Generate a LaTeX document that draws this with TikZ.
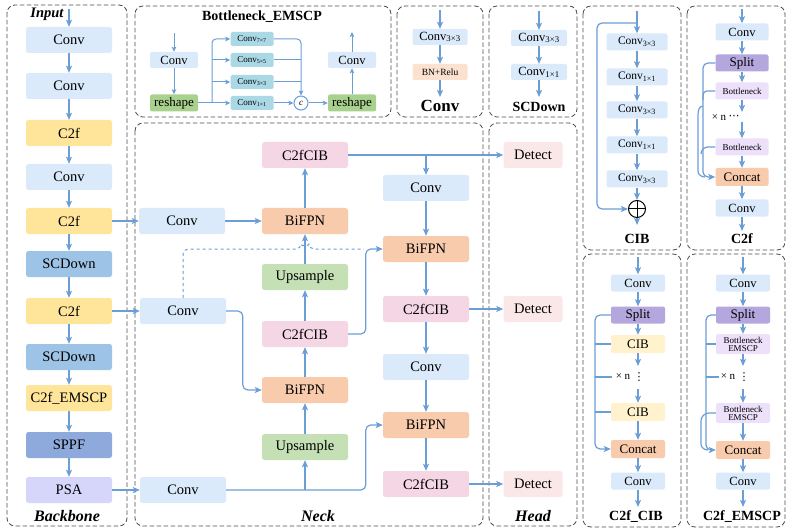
\documentclass[tikz,border=0pt]{standalone}
\usepackage{fontspec}
\setmainfont{Liberation Serif}
\newfontfamily\dotsfont{DejaVu Sans}
\usetikzlibrary{arrows.meta,calc}
\definecolor{cline}{RGB}{108,158,214}
\definecolor{cconv}{RGB}{218,234,250}
\definecolor{cctwof}{RGB}{255,229,153}
\definecolor{cscd}{RGB}{157,195,230}
\definecolor{csppf}{RGB}{142,169,219}
\definecolor{cpsa}{RGB}{214,214,250}
\definecolor{cbifpn}{RGB}{248,203,173}
\definecolor{cccib}{RGB}{245,214,228}
\definecolor{cup}{RGB}{197,224,180}
\definecolor{cdet}{RGB}{250,232,232}
\definecolor{ccyan}{RGB}{170,216,228}
\definecolor{cresh}{RGB}{169,209,142}
\definecolor{cbnr}{RGB}{251,226,208}
\definecolor{csplit}{RGB}{180,167,222}
\definecolor{cbott}{RGB}{236,224,250}
\definecolor{ccibbox}{RGB}{255,242,204}
\newcommand{\fsz}[1]{\fontsize{#1}{#1}\selectfont}

\begin{document}
\begin{tikzpicture}[x=1pt,y=-1pt,
    box/.style={rectangle,rounded corners=2.5pt,inner sep=0pt,minimum width=86pt,minimum height=26pt,font=\fsz{14.5}},
    sbox/.style={rectangle,rounded corners=2pt,inner sep=0pt,minimum width=54pt,minimum height=17pt,font=\fsz{12.5}},
    tbox/.style={rectangle,rounded corners=1.5pt,inner sep=0pt,minimum width=43pt,minimum height=14pt,font=\fsz{9}},
    ntext/.style={inner sep=0pt,font=\fsz{11}},
    vdot/.style={inner sep=0pt,font=\fsz{11}\dotsfont},
    wire/.style={draw=cline,line width=1.2pt},
    arr/.style={wire,-{Stealth[length=7pt,width=6pt,inset=1.5pt]}},
    sarr/.style={wire,line width=1pt,-{Stealth[length=5pt,width=4.5pt,inset=1pt]}},
    panel/.style={draw=black!70,line width=0.8pt,dash pattern=on 4.5pt off 2.5pt,rounded corners=8pt},
    plab/.style={font=\fsz{14}\bfseries},
    ilab/.style={font=\fsz{16}\bfseries\itshape},
    oplusnode/.style={circle,draw=black,line width=1pt,minimum size=17pt,inner sep=0pt,
        path picture={\draw[black,line width=1pt] (path picture bounding box.north) -- (path picture bounding box.south)
        (path picture bounding box.west) -- (path picture bounding box.east);}}]
\useasboundingbox (0,0) rectangle (793,532);

\draw[panel] (7,5) rectangle (127,526);
\draw[panel] (135,6) rectangle (391,117);
\draw[panel] (397,6) rectangle (483,117);
\draw[panel] (489,6) rectangle (577,117);
\draw[panel] (135,123) rectangle (483,526);
\draw[panel] (489,123) rectangle (577,526);
\draw[panel] (583,6) rectangle (681,250);
\draw[panel] (687,6) rectangle (785,250);
\draw[panel] (583,254) rectangle (681,527);
\draw[panel] (687,254) rectangle (785,527);

\node[ilab,font=\fsz{14.5}\bfseries\itshape] (input) at (47,14) {Input};
\node[ilab] (lbback) at (67,516) {Backbone};
\node[ilab] (lbneck) at (318,516) {Neck};
\node[ilab] (lbhead) at (533,516) {Head};
\node[plab] (lbbott) at (262,17) {Bottleneck\_EMSCP};
\node[plab,font=\fsz{17}\bfseries] (lbconv) at (440,106) {Conv};
\node[plab] (lbscd) at (539,107) {SCDown};
\node[plab] (lbcib) at (637,239) {CIB};
\node[plab] (lbctwof) at (742,239) {C2f};
\node[plab] (lbccib) at (636,517) {C2f\_CIB};
\node[plab] (lbcem) at (742,517) {C2f\_EMSCP};

\node[box,fill=cconv] (b1) at (69,40) {Conv};
\node[box,fill=cconv] (b2) at (69,86) {Conv};
\node[box,fill=cctwof] (b3) at (69,133) {C2f};
\node[box,fill=cconv] (b4) at (69,177) {Conv};
\node[box,fill=cctwof] (b5) at (69,221) {C2f};
\node[box,fill=cscd] (b6) at (69,264) {SCDown};
\node[box,fill=cctwof] (b7) at (69,311) {C2f};
\node[box,fill=cscd] (b8) at (69,357) {SCDown};
\node[box,fill=cctwof] (b9) at (69,398) {C2f\_EMSCP};
\node[box,fill=csppf] (b10) at (69,445) {SPPF};
\node[box,fill=cpsa] (b11) at (69,490) {PSA};
\coordinate (bin) at (69,9);
\draw[arr] (bin) -- (b1);
\foreach \i/\j in {1/2,2/3,3/4,4/5,5/6,6/7,7/8,8/9,9/10,10/11}
    \draw[arr] (b\i) -- (b\j);

\node[box,fill=cconv] (nc1) at (182,221) {Conv};
\node[box,fill=cconv] (nc2) at (183,311) {Conv};
\node[box,fill=cconv] (nc3) at (183,490) {Conv};
\node[box,fill=cccib] (ncib1) at (305,155) {C2fCIB};
\node[box,fill=cbifpn] (nbi1) at (305,221) {BiFPN};
\node[box,fill=cup] (nup1) at (305,277) {Upsample};
\node[box,fill=cccib] (ncib2) at (305,334) {C2fCIB};
\node[box,fill=cbifpn] (nbi2) at (305,390) {BiFPN};
\node[box,fill=cup] (nup2) at (305,447) {Upsample};
\node[box,fill=cconv] (mc1) at (426,188) {Conv};
\node[box,fill=cbifpn] (mbi1) at (426,249) {BiFPN};
\node[box,fill=cccib] (mcib1) at (426,309) {C2fCIB};
\node[box,fill=cconv] (mc2) at (426,367) {Conv};
\node[box,fill=cbifpn] (mbi2) at (426,425) {BiFPN};
\node[box,fill=cccib] (mcib2) at (426,484) {C2fCIB};
\node[box,fill=cdet,minimum width=59pt] (d1) at (533,155) {Detect};
\node[box,fill=cdet,minimum width=59pt] (d2) at (533,309) {Detect};
\node[box,fill=cdet,minimum width=59pt] (d3) at (533,484) {Detect};

\draw[arr] (b5) -- (nc1);
\draw[arr] (b7) -- (nc2);
\draw[arr] (b11) -- (nc3);
\draw[arr] (nc1) -- (nbi1);
\draw[arr] (nbi1) -- (ncib1);
\draw[arr] (nup1) -- (nbi1);
\draw[arr] (ncib2) -- (nup1);
\draw[arr] (nbi2) -- (ncib2);
\draw[arr] (nup2) -- (nbi2);
\draw[arr,rounded corners=5pt] (nc2.east) -| ([xshift=-19pt]nbi2.west) -- (nbi2.west);
\draw[arr,rounded corners=5pt] (nc3.east) -| ([xshift=-17pt]mbi2.west) -- (mbi2.west);
\draw[arr] (nup2.south |- nc3.east) -- (nup2);
\draw[arr,rounded corners=5pt] (ncib2.east) -| ([xshift=-17pt]mbi1.west) -- (mbi1.west);
\draw[wire,dashed,line width=1pt,rounded corners=5pt] (nc2.north) |- (301,249)
    arc[start angle=180,end angle=360,radius=4] -- ([xshift=-19pt]mbi1.west);
\draw[arr] (ncib1) -- (d1);
\draw[arr] (mc1.north |- ncib1.east) -- (mc1);
\draw[arr] (mc1) -- (mbi1);
\draw[arr] (mbi1) -- (mcib1);
\draw[arr] (mcib1) -- (mc2);
\draw[arr] (mc2) -- (mbi2);
\draw[arr] (mbi2) -- (mcib2);
\draw[arr] (mcib1) -- (d2);
\draw[arr] (mcib2) -- (d3);

\node[sbox,fill=cconv,minimum width=48pt,minimum height=16pt] (ec) at (174,60) {Conv};
\node[sbox,fill=cresh,minimum width=48pt,font=\fsz{13}] (er1) at (174,103) {reshape};
\node[tbox,fill=ccyan] (e7) at (252,39) {Conv\textsubscript{7×7}};
\node[tbox,fill=ccyan] (e5) at (252,60) {Conv\textsubscript{5×5}};
\node[tbox,fill=ccyan] (e3) at (252,82) {Conv\textsubscript{3×3}};
\node[tbox,fill=ccyan] (e1) at (252,103) {Conv\textsubscript{1×1}};
\node[circle,draw=cline,fill=white,line width=1pt,minimum size=14pt,inner sep=0pt,font=\fsz{9}\itshape] (ecat) at (301,103) {c};
\node[sbox,fill=cresh,minimum width=48pt,font=\fsz{13}] (er2) at (352,103) {reshape};
\node[sbox,fill=cconv,minimum width=48pt,minimum height=16pt] (ec2) at (352,60) {Conv};
\coordinate (ein) at (174,33);
\coordinate (eout) at (352,32);
\coordinate (esplit) at (212,103);
\draw[sarr] (ein) -- (ec);
\draw[sarr] (ec) -- (er1);
\draw[sarr] (er1) -- (e1);
\draw[sarr,rounded corners=4pt] (esplit) |- (e7);
\draw[sarr] (esplit |- e5) -- (e5);
\draw[sarr] (esplit |- e3) -- (e3);
\draw[sarr,rounded corners=4pt] (e7) -| (ecat);
\draw[wire,line width=1pt] (e5) -- (ecat.north |- e5);
\draw[wire,line width=1pt] (e3) -- (ecat.north |- e3);
\draw[sarr] (e1) -- (ecat);
\draw[sarr] (ecat) -- (er2);
\draw[sarr] (er2) -- (ec2);
\draw[sarr] (ec2) -- (eout);

\node[sbox,fill=cconv,minimum width=55pt,minimum height=16pt] (cv1) at (440,37) {Conv\textsubscript{3×3}};
\node[sbox,fill=cbnr,minimum width=55pt,minimum height=16pt,font=\fsz{9.5}] (cv2) at (440,72) {BN+Relu};
\coordinate (cvin) at (440,10);
\coordinate (cvout) at (440,97);
\draw[arr] (cvin) -- (cv1);
\draw[arr] (cv1) -- (cv2);
\draw[arr] (cv2) -- (cvout);

\node[sbox,fill=cconv,minimum width=56pt,minimum height=16pt] (sd1) at (539,38) {Conv\textsubscript{3×3}};
\node[sbox,fill=cconv,minimum width=56pt,minimum height=16pt] (sd2) at (539,72) {Conv\textsubscript{1×1}};
\coordinate (sdin) at (539,11);
\coordinate (sdout) at (539,97);
\draw[arr] (sdin) -- (sd1);
\draw[arr] (sd1) -- (sd2);
\draw[arr] (sd2) -- (sdout);

\node[sbox,fill=cconv,minimum width=61pt,font=\fsz{11.5}] (ci1) at (637,42) {Conv\textsubscript{3×3}};
\node[sbox,fill=cconv,minimum width=61pt,font=\fsz{11.5}] (ci2) at (637,77) {Conv\textsubscript{1×1}};
\node[sbox,fill=cconv,minimum width=61pt,font=\fsz{11.5}] (ci3) at (637,110) {Conv\textsubscript{3×3}};
\node[sbox,fill=cconv,minimum width=61pt,font=\fsz{11.5}] (ci4) at (637,145) {Conv\textsubscript{1×1}};
\node[sbox,fill=cconv,minimum width=61pt,font=\fsz{11.5}] (ci5) at (637,179) {Conv\textsubscript{3×3}};
\node[oplusnode] (cadd) at (637,209) {};
\coordinate (ciin) at (637,11);
\coordinate (ciskip) at (637,23);
\coordinate (ciout) at (637,225);
\draw[arr] (ciin) -- (ci1);
\foreach \i/\j in {1/2,2/3,3/4,4/5}
    \draw[arr] (ci\i) -- (ci\j);
\draw[arr] (ci5) -- (cadd);
\draw[arr] (cadd) -- (ciout);
\draw[arr,rounded corners=5pt] (ciskip) -- (597,23) -- (597,209) -- (cadd.west);

\node[sbox,fill=cconv,minimum width=53pt] (f1) at (742,32) {Conv};
\node[sbox,fill=csplit,minimum width=53pt,font=\fsz{13}] (f2) at (742,63) {Split};
\node[sbox,fill=cbott,minimum width=53pt,font=\fsz{9}] (f3) at (742,91) {Bottleneck};
\node[sbox,fill=cbott,minimum width=53pt,font=\fsz{9}] (f4) at (742,147) {Bottleneck};
\node[sbox,fill=cbifpn,minimum width=53pt,minimum height=18pt,font=\fsz{13}] (f5) at (742,177) {Concat};
\node[sbox,fill=cconv,minimum width=53pt] (f6) at (742,208) {Conv};
\node[ntext] (fn) at (719,118) {× n};
\node[vdot] (fdots) at (734,117) {⋯};
\coordinate (fin) at (742,9);
\coordinate (fmid1) at (742,112);
\coordinate (fmid2) at (742,122);
\coordinate (fout) at (742,231);
\draw[arr] (fin) -- (f1);
\draw[arr] (f1) -- (f2);
\draw[arr] (f2) -- (f3);
\draw[arr] (f3) -- (fmid1);
\draw[arr] (fmid2) -- (f4);
\draw[arr] (f4) -- (f5);
\draw[arr] (f5) -- (f6);
\draw[arr] (f6) -- (fout);
\draw[arr,rounded corners=5pt] (f2.west) -- (703,63) -- (703,177) -- (f5.west);
\draw[wire,rounded corners=4pt] (f3.west) -- (703,91) -- (703,100);
\draw[wire] (703,106) to[out=180,in=90] (698,115) -- (698,171) to[out=-90,in=180] (705,177);
\draw[wire] (f4.west) -- (708,147) to[out=180,in=90] (701,154);

\node[sbox,fill=cconv] (g1) at (638,283) {Conv};
\node[sbox,fill=csplit,font=\fsz{13}] (g2) at (638,315) {Split};
\node[sbox,fill=ccibbox,minimum height=18pt,font=\fsz{13}] (g3) at (638,344) {CIB};
\node[sbox,fill=ccibbox,minimum height=18pt,font=\fsz{13}] (g4) at (638,412) {CIB};
\node[sbox,fill=cbifpn,minimum height=18pt,font=\fsz{13}] (g5) at (638,449) {Concat};
\node[sbox,fill=cconv] (g6) at (638,481) {Conv};
\node[ntext] (gn) at (623,377) {× n};
\node[vdot] (gdots) at (639,377) {⋮};
\coordinate (gin) at (638,257);
\coordinate (gmid1) at (638,366);
\coordinate (gmid2) at (638,389);
\coordinate (gout) at (638,507);
\draw[arr] (gin) -- (g1);
\draw[arr] (g1) -- (g2);
\draw[arr] (g2) -- (g3);
\draw[arr] (g3) -- (gmid1);
\draw[arr] (gmid2) -- (g4);
\draw[arr] (g4) -- (g5);
\draw[arr] (g5) -- (g6);
\draw[arr] (g6) -- (gout);
\draw[arr,rounded corners=5pt] (g2.west) -- (595,315) -- (595,449) -- (g5.west);
\draw[wire] (g3.west) -- (595,344);
\draw[wire] (595,377) -- (612,377);
\draw[wire] (g4.west) -- (595,412);

\node[sbox,fill=cconv] (h1) at (743,283) {Conv};
\node[sbox,fill=csplit,font=\fsz{13}] (h2) at (743,315) {Split};
\node[sbox,fill=cbott,minimum height=20pt,font=\fsz{9},align=center] (h3) at (743,344) {Bottleneck\\[-1pt]EMSCP};
\node[sbox,fill=cbott,minimum height=20pt,font=\fsz{9},align=center] (h4) at (743,413) {Bottleneck\\[-1pt]EMSCP};
\node[sbox,fill=cbifpn,minimum height=18pt,font=\fsz{13}] (h5) at (743,450) {Concat};
\node[sbox,fill=cconv] (h6) at (743,481) {Conv};
\node[ntext] (hn) at (728,377) {× n};
\node[vdot] (hdots) at (744,377) {⋮};
\coordinate (hin) at (743,257);
\coordinate (hmid1) at (743,366);
\coordinate (hmid2) at (743,389);
\coordinate (hout) at (743,507);
\draw[arr] (hin) -- (h1);
\draw[arr] (h1) -- (h2);
\draw[arr] (h2) -- (h3);
\draw[arr] (h3) -- (hmid1);
\draw[arr] (hmid2) -- (h4);
\draw[arr] (h4) -- (h5);
\draw[arr] (h5) -- (h6);
\draw[arr] (h6) -- (hout);
\draw[arr,rounded corners=5pt] (h2.west) -- (706,315) -- (706,450) -- (h5.west);
\draw[wire] (h3.west) -- (706,344);
\draw[wire] (706,377) -- (719,377);
\draw[wire] (h4.west) -- (709,413) to[out=180,in=90] (701,421) -- (701,444) to[out=-90,in=180] (708,450);
\end{tikzpicture}
\end{document}
